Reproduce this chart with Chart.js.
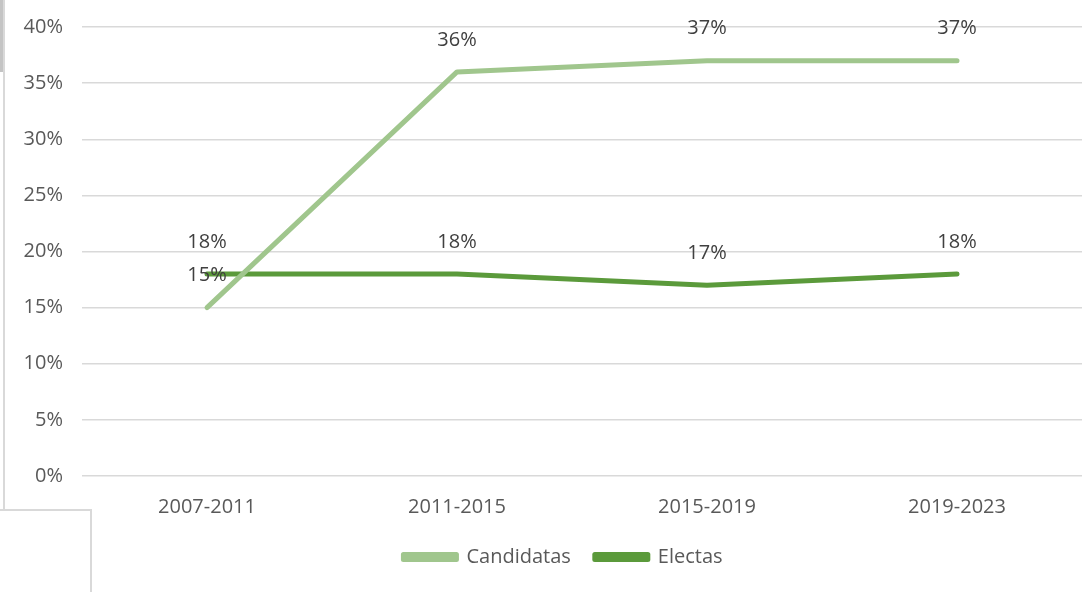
<!DOCTYPE html>
<html>
<head>
<meta charset="utf-8">
<script src="https://cdn.jsdelivr.net/npm/chart.js@4/dist/chart.umd.min.js"></script>
<style>
  html, body { margin: 0; padding: 0; background: #fff; }
  #wrap { position: relative; width: 1082px; height: 592px; overflow: hidden; }
  canvas { position: absolute; left: 0; top: 0; }
  .deco { position: absolute; background: #d9d9d9; }
</style>
</head>
<body>
<div id="wrap">
  <canvas id="chart" width="1082" height="592"></canvas>
  <div class="deco" style="left:0;top:0;width:3px;height:72px;background:#c4c4c4"></div>
  <div class="deco" style="left:3px;top:0;width:2px;height:510px"></div>
  <div class="deco" style="left:0;top:509px;width:92px;height:2px"></div>
  <div class="deco" style="left:90px;top:509px;width:2px;height:83px"></div>
</div>
<script>
// values (percent)
const periods = ['2007-2011', '2011-2015', '2015-2019', '2019-2023'];
const candidatas = [15, 36, 37, 37];
const electas = [18, 18, 17, 18];
const yTicks = [0, 5, 10, 15, 20, 25, 30, 35, 40];

const FONT = '"Open Sans", "Noto Sans", sans-serif';

// draws the value above every point, like the spreadsheet's data labels
const pointLabels = {
    id: 'pointLabels',
    afterDatasetsDraw(chart) {
        const ctx = chart.ctx;
        ctx.save();
        ctx.font = '20px ' + FONT;
        ctx.fillStyle = '#404040';
        ctx.textAlign = 'center';
        ctx.textBaseline = 'middle';
        chart.data.datasets.forEach(function (ds, i) {
            chart.getDatasetMeta(i).data.forEach(function (pt, j) {
                ctx.fillText(ds.data[j] + '%', pt.x, pt.y - 32);
            });
        });
        ctx.restore();
    }
};

// the original legend sits a little right of the canvas centre
const legendShift = {
    id: 'legendShift',
    afterLayout(chart) {
        if (chart.legend) {
            chart.legend.left += 22;
            chart.legend.right += 22;
        }
    }
};

new Chart(document.getElementById('chart'), {
    type: 'line',
    data: {
        labels: periods,
        datasets: [
            {
                label: 'Candidatas',
                data: candidatas,
                borderColor: '#a0c68d',
                backgroundColor: '#a0c68d',
                borderWidth: 5,
                borderCapStyle: 'round',
                borderJoinStyle: 'round',
                pointRadius: 0,
                tension: 0
            },
            {
                label: 'Electas',
                data: electas,
                borderColor: '#5b9a3b',
                backgroundColor: '#5b9a3b',
                borderWidth: 5,
                borderCapStyle: 'round',
                borderJoinStyle: 'round',
                pointRadius: 0,
                tension: 0
            }
        ]
    },
    options: {
        responsive: false,
        animation: false,
        layout: { padding: { top: 27, right: 0, left: 0, bottom: 15 } },
        plugins: {
            tooltip: { enabled: false },
            legend: {
                position: 'bottom',
                labels: {
                    color: '#595959',
                    font: { family: FONT, size: 20 },
                    boxWidth: 53,
                    boxHeight: 5,
                    borderRadius: 2.5,
                    padding: 24
                }
            }
        },
        scales: {
            x: {
                offset: true,
                grid: { display: false },
                border: { display: false },
                afterFit: function (scale) { scale.height -= 7; },
                ticks: { color: '#595959', font: { family: FONT, size: 20 }, padding: 11 }
            },
            y: {
                min: 0,
                max: 40,
                afterFit: function (scale) {
                    scale.width = 82;
                    scale.paddingTop = 12;
                },
                afterBuildTicks: function (scale) {
                    scale.ticks = yTicks.map(function (v) { return { value: v }; });
                },
                grid: { color: '#d9d9d9', lineWidth: 1.5, drawTicks: false },
                border: { display: false },
                ticks: {
                    color: '#595959',
                    font: { family: FONT, size: 20 },
                    padding: 19,
                    callback: function (v) { return v + '%'; }
                }
            }
        }
    },
    plugins: [pointLabels, legendShift]
});
</script>
</body>
</html>
